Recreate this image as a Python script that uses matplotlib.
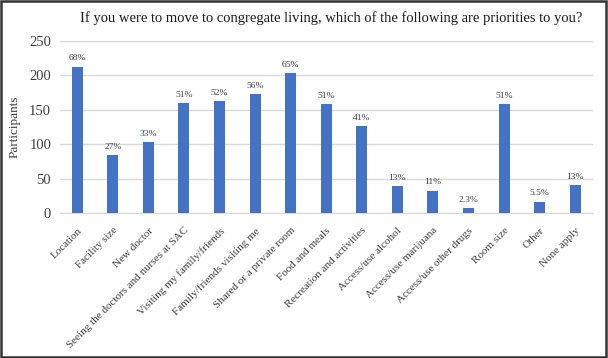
import matplotlib
matplotlib.use("Agg")
import matplotlib.pyplot as plt
from matplotlib.patches import Rectangle

categories = ["Location", "Facility size", "New doctor", "Seeing the doctors and nurses at SAC",
              "Visiting my family/friends", "Family/friends visiting me", "Shared or a private room",
              "Food and meals", "Recreation and activities", "Access/use alcohol",
              "Access/use marijuana", "Access/use other drugs", "Room size", "Other", "None apply"]
values = [213, 84, 103, 160, 163, 173, 203, 158, 126, 40, 33, 7, 158, 17, 41]
pct_labels = ["68%", "27%", "33%", "51%", "52%", "56%", "65%", "51%", "41%", "13%",
              "11%", "2.3%", "51%", "5.5%", "13%"]
yticks = [0, 50, 100, 150, 200, 250]

plt.rcParams['font.family'] = ['Liberation Serif', 'DejaVu Serif']

fig = plt.figure(figsize=(6.08, 3.58), dpi=100)
ax = fig.add_axes([59.5/608, 1 - 213.3/358, (593 - 59.5)/608, 172.3/358])

x = list(range(len(categories)))
ax.bar(x, values, width=0.31, color="#4472C4", zorder=3)
for xi, v, lab in zip(x, values, pct_labels):
    ax.text(xi, v + 6, lab, ha="center", va="bottom", fontsize=6.8, color="#404040")

ax.set_ylim(0, 250)
ax.set_xlim(-0.5, len(categories) - 0.5)
ax.set_yticks(yticks)
ax.set_yticklabels([str(t) for t in yticks], fontsize=10.5, color="#404040")
ax.yaxis.grid(True, color="#D9D9D9", linewidth=1, zorder=0)
ax.tick_params(axis="y", length=0, pad=6)
ax.tick_params(axis="x", length=0, pad=9)
ax.set_xticks(x)
ax.set_xticklabels(categories, rotation=45, ha="right", rotation_mode="anchor",
                   fontsize=8.0, color="#404040")
for s in ["top", "right", "left"]:
    ax.spines[s].set_visible(False)
ax.spines["bottom"].set_color("#D9D9D9")
ax.set_ylabel("Participants", fontsize=9.5, color="#404040", labelpad=6)

fig.text(0.545, 1 - 18/358, "If you were to move to congregate living, which of the following are priorities to you?",
         ha="center", va="center", fontsize=10.5, color="#1a1a1a")

# figure frame
fig.patches.append(Rectangle((0.002, 0.004), 0.995, 0.993, transform=fig.transFigure,
                             fill=False, edgecolor="#333333", linewidth=1.8))

fig.savefig("out.png", dpi=100)
